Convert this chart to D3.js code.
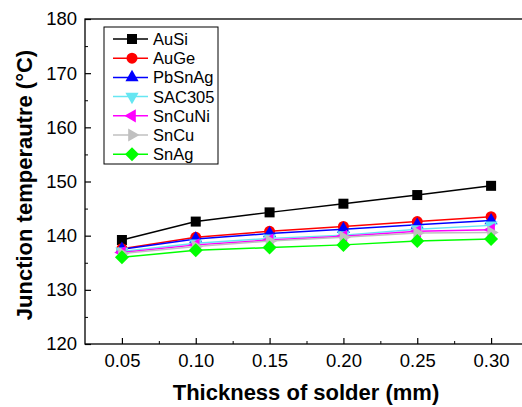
<!DOCTYPE html>
<html>
<head>
<meta charset="utf-8">
<script src="https://cdn.jsdelivr.net/npm/d3@7"></script>
<style>
  body { margin: 0; background: #fff; }
  svg { font-family: "Liberation Sans", Arial, sans-serif; }
</style>
</head>
<body>
<svg id="chart" width="522" height="407"></svg>
<script>
// thickness of solder (mm)
var thickness = [0.05, 0.10, 0.15, 0.20, 0.25, 0.30];

var names = ["AuSi", "AuGe", "PbSnAg", "SAC305", "SnCuNi", "SnCu", "SnAg"];
var colors = ["#000000", "#ff0000", "#0000ff", "#66e6f2", "#ff00ff", "#c0c0c0", "#00ff00"];
var symbols = ["square", "circle", "up", "down", "left", "right", "diamond"];

var auSi   = [139.2, 142.6, 144.3, 145.9, 147.5, 149.2];
var auGe   = [137.6, 139.7, 140.8, 141.7, 142.6, 143.5];
var pbSnAg = [137.5, 139.4, 140.4, 141.2, 142.0, 142.8];
var sac305 = [137.1, 138.6, 139.5, 140.1, 141.2, 141.9];
var snCuNi = [136.9, 138.3, 139.2, 139.9, 140.8, 141.1];
var snCu   = [136.7, 138.0, 139.0, 139.7, 140.5, 140.6];
var snAg   = [136.0, 137.3, 137.8, 138.3, 139.0, 139.4];

var yTicks = [120, 130, 140, 150, 160, 170, 180];
var xTicks = [0.05, 0.10, 0.15, 0.20, 0.25, 0.30];

var series_values = [auSi, auGe, pbSnAg, sac305, snCuNi, snCu, snAg];

var svg = d3.select("#chart");

var x = d3.scaleLinear().domain([0.025, 0.325]).range([85, 528]);
var y = d3.scaleLinear().domain([120, 180]).range([344, 19]);

// frame
svg.append("rect")
    .attr("x", 85).attr("y", 19)
    .attr("width", 443).attr("height", 325)
    .attr("fill", "none").attr("stroke", "#000").attr("stroke-width", 1.3);

// x axis, ticks pointing inward
var xAxis = svg.append("g").attr("transform", "translate(0,344)")
    .call(d3.axisBottom(x).tickValues(xTicks).tickSize(-6).tickPadding(10).tickFormat(d3.format(".2f")));
xAxis.select(".domain").remove();
xAxis.selectAll("text").attr("font-size", 18.5).attr("fill", "#000").attr("font-family", "Liberation Sans, Arial, sans-serif");
xAxis.selectAll("line").attr("stroke-width", 1.2);
svg.append("g").attr("transform", "translate(0,344)")
    .call(d3.axisBottom(x).tickValues([0.075, 0.125, 0.175, 0.225, 0.275]).tickSize(-3).tickFormat(""))
    .select(".domain").remove();

var yAxis = svg.append("g").attr("transform", "translate(85,0)")
    .call(d3.axisLeft(y).tickValues(yTicks).tickSize(-6).tickPadding(8));
yAxis.select(".domain").remove();
yAxis.selectAll("text").attr("font-size", 18.5).attr("fill", "#000").attr("font-family", "Liberation Sans, Arial, sans-serif");
yAxis.selectAll("line").attr("stroke-width", 1.2);
svg.append("g").attr("transform", "translate(85,0)")
    .call(d3.axisLeft(y).tickValues([125, 135, 145, 155, 165, 175]).tickSize(-3).tickFormat(""))
    .select(".domain").remove();

// axis titles
svg.append("text")
    .attr("x", 306).attr("y", 400)
    .attr("text-anchor", "middle")
    .attr("font-size", 22).attr("font-weight", "bold")
    .text("Thickness of solder (mm)");
svg.append("text")
    .attr("transform", "translate(32,185) rotate(-90)")
    .attr("text-anchor", "middle")
    .attr("font-size", 22).attr("font-weight", "bold")
    .text("Junction temperautre (°C)");

function marker(sel, sym, color) {
    var tri = d3.symbol().type(d3.symbolTriangle).size(75);
    if (sym == "square") {
        sel.append("rect").attr("x", -5).attr("y", -5).attr("width", 10).attr("height", 10).attr("fill", color);
    } else if (sym == "circle") {
        sel.append("circle").attr("r", 5.5).attr("fill", color);
    } else if (sym == "diamond") {
        sel.append("path").attr("d", "M0,-7L7,0L0,7L-7,0Z").attr("fill", color);
    } else {
        var rot = {up: 0, down: 180, left: -90, right: 90}[sym];
        sel.append("path").attr("d", tri()).attr("transform", "rotate(" + rot + ")").attr("fill", color);
    }
}

var line = d3.line().x((d, i) => x(thickness[i])).y(d => y(d));

series_values.forEach(function (vals, k) {
    var g = svg.append("g").attr("class", "series");
    g.append("path")
        .attr("d", line(vals))
        .attr("fill", "none")
        .attr("stroke", colors[k])
        .attr("stroke-width", 1.5);
    vals.forEach(function (v, i) {
        var m = g.append("g").attr("transform", "translate(" + x(thickness[i]) + "," + y(v) + ")");
        marker(m, symbols[k], colors[k]);
    });
});

// legend
var legend = svg.append("g");
legend.append("rect")
    .attr("x", 104).attr("y", 27).attr("width", 114).attr("height", 137)
    .attr("fill", "#fff").attr("stroke", "#000").attr("stroke-width", 1);
names.forEach(function (name, k) {
    var ly = 39 + k * 19.2;
    legend.append("line")
        .attr("x1", 113).attr("x2", 148).attr("y1", ly).attr("y2", ly)
        .attr("stroke", colors[k]).attr("stroke-width", 1.5);
    var m = legend.append("g").attr("transform", "translate(132," + ly + ")");
    marker(m, symbols[k], colors[k]);
    legend.append("text")
        .attr("x", 153).attr("y", ly + 6)
        .attr("font-size", 16.5)
        .text(name);
});
</script>
</body>
</html>
